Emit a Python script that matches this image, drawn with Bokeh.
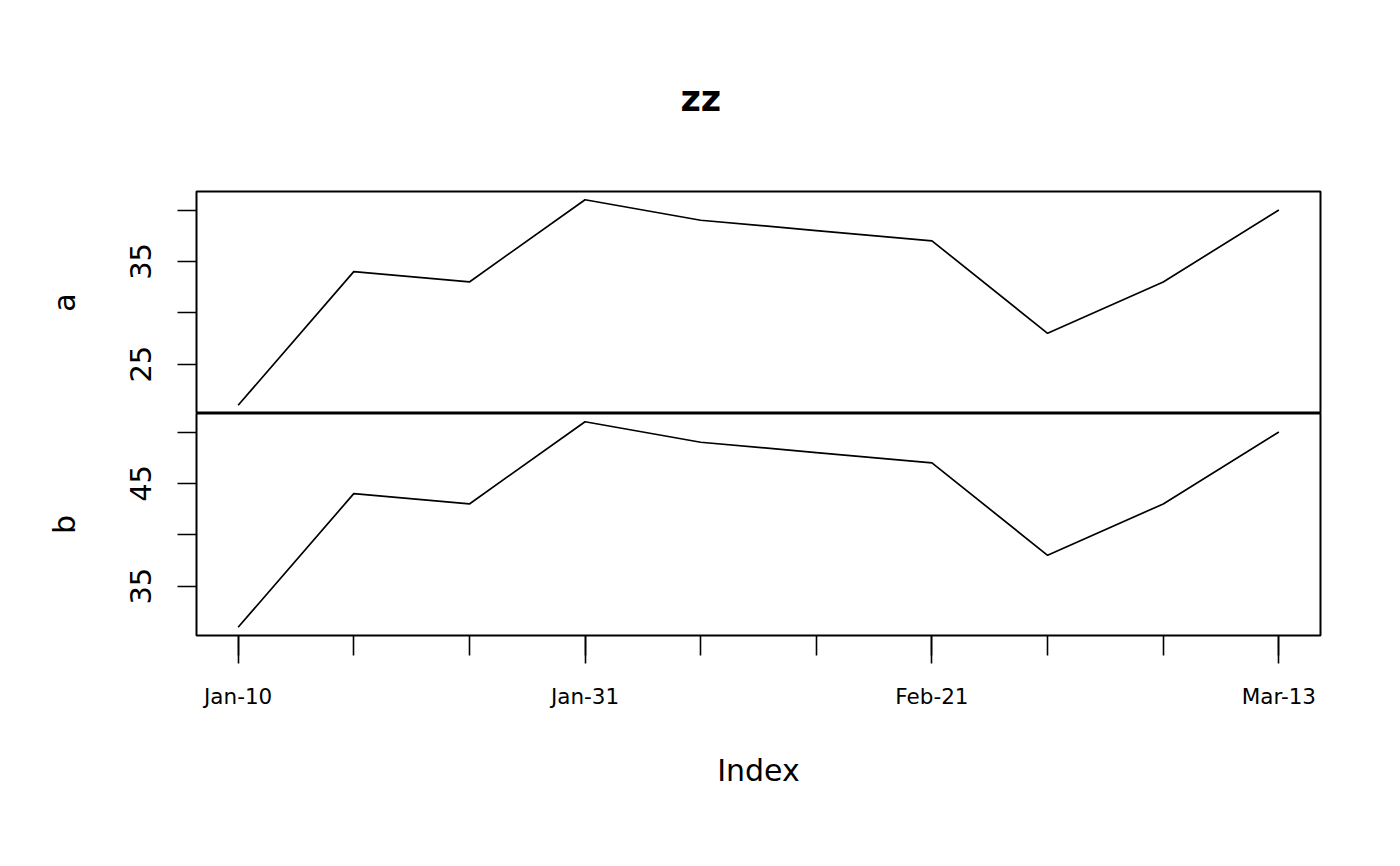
import pandas as pd
from bokeh.plotting import figure
from bokeh.layouts import column
from bokeh.models import Range1d, FixedTicker, DatetimeTickFormatter, Title
from bokeh.embed import file_html
from bokeh.resources import INLINE

# ---- data ----
dates = ["2004-01-10", "2004-01-17", "2004-01-24", "2004-01-31", "2004-02-07",
         "2004-02-14", "2004-02-21", "2004-02-28", "2004-03-06", "2004-03-13"]
series_a = [21, 34, 33, 41, 39, 38, 37, 28, 33, 40]
series_b = [31, 44, 43, 51, 49, 48, 47, 38, 43, 50]
labeled_dates = ["2004-01-10", "2004-01-31", "2004-02-21", "2004-03-13"]
a_ticks = [25, 30, 35, 40]
b_ticks = [35, 40, 45, 50]
title_text = "zz"
xlab = "Index"

FONT = "DejaVu Sans"
epoch = pd.Timestamp("1970-01-01")
def to_ms(s):
    return (pd.Timestamp(s) - epoch) / pd.Timedelta(milliseconds=1)

x_ms = [to_ms(d) for d in dates]
major_ms = [to_ms(d) for d in labeled_dates]
span = x_ms[-1] - x_ms[0]
x_start = x_ms[0] - 0.04 * span
x_end = x_ms[-1] + 0.04 * span

def yrange(vals):
    lo, hi = min(vals), max(vals)
    d = 0.04 * (hi - lo)
    return Range1d(lo - d, hi + d)

def style(p, ticks, label):
    p.grid.visible = False
    p.outline_line_color = "black"
    p.outline_line_width = 2
    p.outline_line_alpha = 1
    ax = p.yaxis[0]
    ax.ticker = FixedTicker(ticks=ticks)
    ax.major_label_overrides = {ticks[0] + 5: "", ticks[2] + 5: ""}
    ax.axis_line_color = None
    ax.major_tick_in = 0
    ax.major_tick_out = 19
    ax.major_tick_line_width = 1.6
    ax.major_tick_line_color = "black"
    ax.minor_tick_line_color = None
    ax.major_label_orientation = "vertical"
    ax.major_label_text_font = FONT
    ax.major_label_text_font_size = "29px"
    ax.major_label_text_color = "black"
    ax.major_label_standoff = 26
    ax.axis_label = label
    ax.axis_label_text_font = FONT
    ax.axis_label_text_font_size = "30px"
    ax.axis_label_text_font_style = "normal"
    ax.axis_label_text_color = "black"
    ax.axis_label_standoff = 46

p1 = figure(width=1392, height=413, x_axis_type="datetime",
            x_range=Range1d(x_start, x_end), y_range=yrange(series_a),
            output_backend="svg", toolbar_location=None, x_axis_location=None,
            min_border_left=196, min_border_right=72, min_border_top=191,
            min_border_bottom=0)
p1.line(x_ms, series_a, line_color="black", line_width=1.7)
style(p1, a_ticks, "a")
p1.title = Title(text=title_text, align="left", offset=484, text_font=FONT,
                 text_font_size="35px", text_font_style="bold",
                 text_color="black", vertical_align="bottom", standoff=146)

p2 = figure(width=1392, height=445, x_axis_type="datetime",
            x_range=p1.x_range, y_range=yrange(series_b),
            output_backend="svg", toolbar_location=None,
            min_border_left=196, min_border_right=72, min_border_top=0,
            min_border_bottom=223)
p2.line(x_ms, series_b, line_color="black", line_width=1.7)
style(p2, b_ticks, "b")

xa = p2.xaxis[0]
xa.ticker = FixedTicker(ticks=major_ms, minor_ticks=x_ms)
xa.formatter = DatetimeTickFormatter(days="%b-%d", months="%b-%d", years="%b-%d",
                                     hours="%b-%d", context=None)
xa.axis_line_color = None
xa.major_tick_in = 0
xa.major_tick_out = 28
xa.minor_tick_in = 0
xa.minor_tick_out = 20
xa.major_tick_line_width = 1.6
xa.minor_tick_line_width = 1.6
xa.major_tick_line_color = "black"
xa.minor_tick_line_color = "black"
xa.major_label_text_font = FONT
xa.major_label_text_font_size = "21.5px"
xa.major_label_text_color = "black"
xa.major_label_standoff = 20
xa.axis_label = xlab
xa.axis_label_text_font = FONT
xa.axis_label_text_font_size = "30px"
xa.axis_label_text_font_style = "normal"
xa.axis_label_text_color = "black"
xa.axis_label_standoff = 41

layout = column(p1, p2, spacing=0)
open("out.html", "w").write(file_html(layout, INLINE))
